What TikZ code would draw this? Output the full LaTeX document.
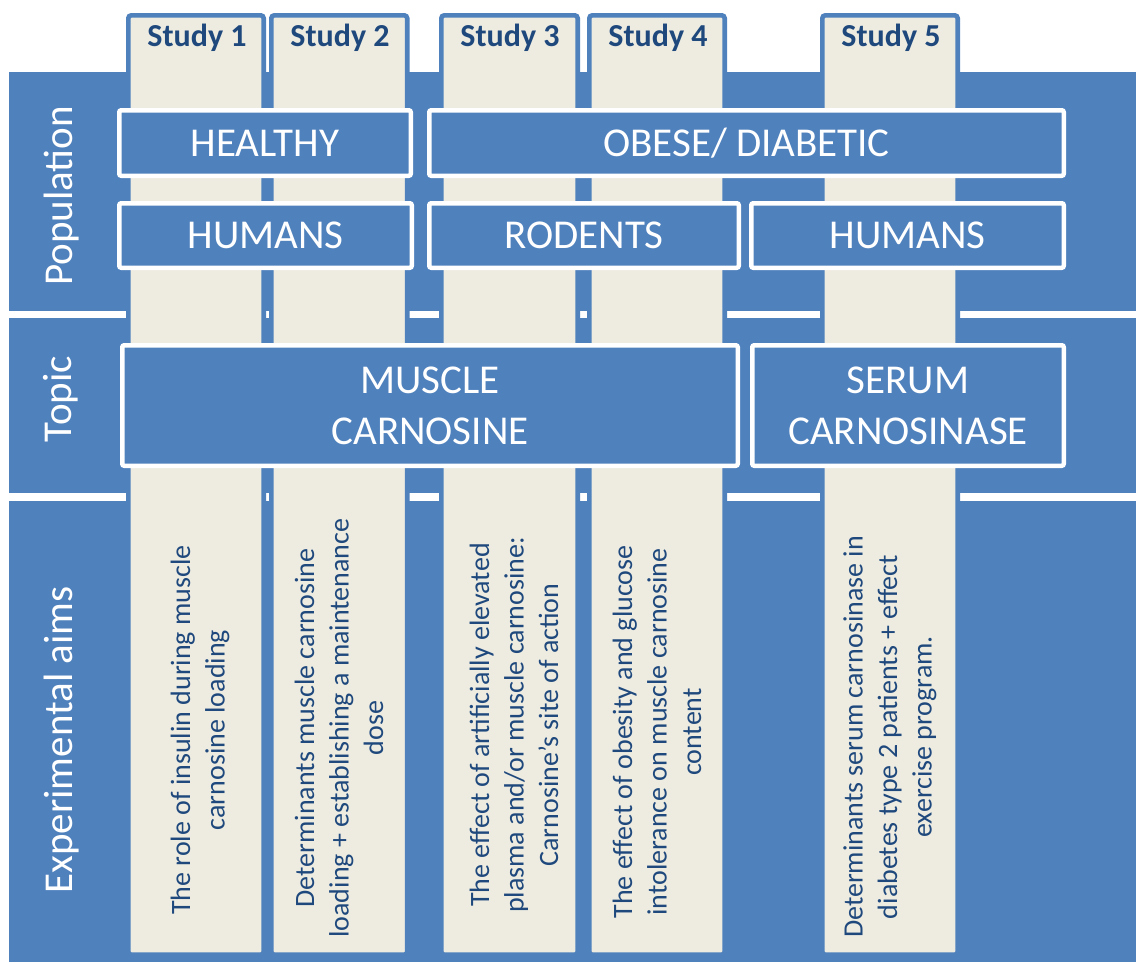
\documentclass[tikz,border=0pt]{standalone}
\usepackage{fontspec}
\setmainfont{Carlito}
\definecolor{bandblue}{HTML}{4F81BD}
\definecolor{colbeige}{HTML}{EEECE1}
\definecolor{inkblue}{HTML}{1F497D}

\begin{document}
\begin{tikzpicture}[x=1pt,y=-1pt,
  band/.style={fill=bandblue, draw=none},
  studycol/.style={draw=bandblue, fill=colbeige, line width=4.6pt, rounded corners=3pt},
  catbox/.style={draw=white, fill=bandblue, line width=4.5pt, rounded corners=2pt,
    text=white, font=\fontsize{41}{51}\selectfont, align=center, inner sep=0pt},
  oneline/.style={text height=26pt, text depth=0pt},
  rowlabel/.style={rotate=90, anchor=base, text=white, font=\fontsize{41}{50}\selectfont, inner sep=0pt},
  tablabel/.style={anchor=base, text=inkblue, font=\bfseries\fontsize{32}{38}\selectfont, inner sep=0pt},
  aimtext/.style={rotate=90, text=inkblue, align=center, font=\fontsize{28}{34.5}\selectfont, inner sep=0pt},
]
% canvas
\fill[white] (0,0) rectangle (1136,962);
\useasboundingbox (0,0) rectangle (1136,962);

% the three horizontal bands
\fill[band] (9,72) rectangle (1136,311);
\fill[band] (9,318) rectangle (1136,493);
\fill[band] (9,501) rectangle (1136,962);

% study columns with their tabs
\draw[studycol] (128.3,15.3) rectangle (263.7,954.7);
\draw[studycol] (271.3,15.3) rectangle (407.2,954.7);
\draw[studycol] (441.3,15.3) rectangle (577.7,954.7);
\draw[studycol] (589.3,15.3) rectangle (724.7,954.7);
\draw[studycol] (822.3,15.3) rectangle (957.7,954.7);

% tab captions
\node[tablabel] (s1) at (197,46) {Study 1};
\node[tablabel] (s2) at (340,46) {Study 2};
\node[tablabel] (s3) at (510,46) {Study 3};
\node[tablabel] (s4) at (658,46) {Study 4};
\node[tablabel] (s5) at (891,46) {Study 5};

% row captions
\node[rowlabel] (lpop) at (72,196) {Population};
\node[rowlabel] (ltop) at (71,399) {Topic};
\node[rowlabel] (laim) at (72,740) {Experimental aims};

% population boxes
\node[catbox, oneline, minimum width=291.5pt, minimum height=65.5pt] (healthy) at (265,143) {HEALTHY};
\node[catbox, oneline, minimum width=634.5pt, minimum height=65.5pt] (obese) at (746.5,143) {OBESE/ DIABETIC};
\node[catbox, oneline, minimum width=292.5pt, minimum height=64.5pt] (humansA) at (265.5,235.5) {HUMANS};
\node[catbox, oneline, minimum width=309.5pt, minimum height=64.5pt] (rodents) at (584,235.5) {RODENTS};
\node[catbox, oneline, minimum width=312.5pt, minimum height=64.5pt] (humansB) at (907.5,235.5) {HUMANS};

% topic boxes
\node[catbox, minimum width=615.5pt, minimum height=120.5pt] (muscle) at (430,405.5) {MUSCLE\\CARNOSINE};
\node[catbox, minimum width=311.5pt, minimum height=120.5pt] (serum) at (908,405.5) {SERUM\\CARNOSINASE};

% experimental aims
\node[aimtext] (aim1) at (200,730) {The role of insulin during muscle\\carnosine loading};
\node[aimtext] (aim2) at (339,728) {Determinants muscle carnosine\\loading + establishing a maintenance\\dose};
\node[aimtext] (aim3) at (514,725) {The effect of artificially elevated\\plasma and/or muscle carnosine:\\Carnosine’s site of action};
\node[aimtext] (aim4) at (657,732) {The effect of obesity and glucose\\intolerance on muscle carnosine\\content};
\node[aimtext] (aim5) at (890,737) {Determinants serum carnosinase in\\diabetes type 2 patients + effect\\exercise program.};
\end{tikzpicture}
\end{document}
